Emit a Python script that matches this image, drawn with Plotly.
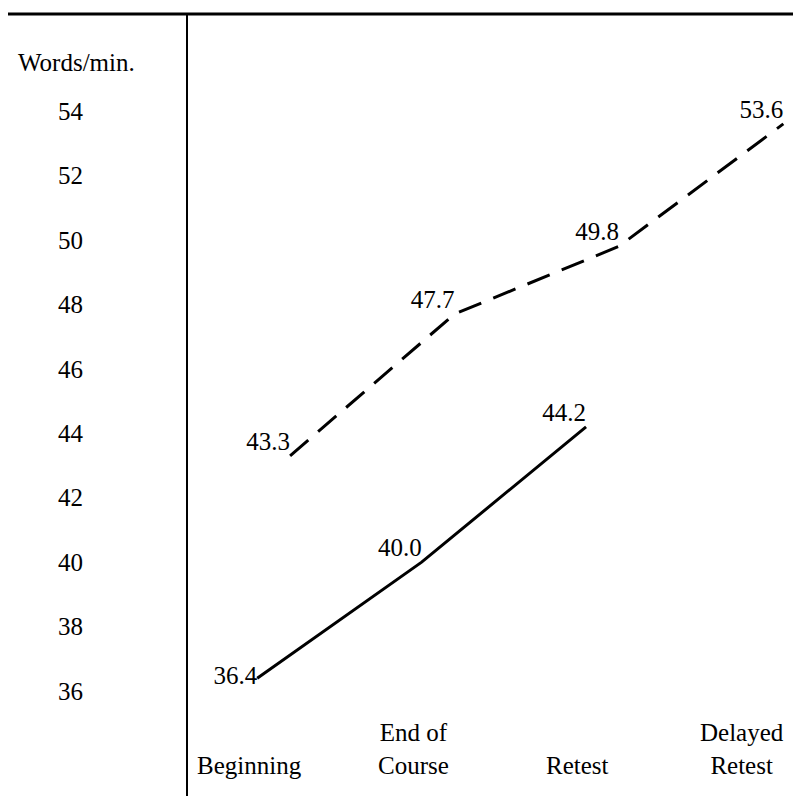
import plotly.graph_objects as go

# ---- data ----
categories = ["Beginning", "End of<br>Course", "Retest", "Delayed<br>Retest"]
solid_values = [36.4, 40.0, 44.2]          # solid line group
dashed_values = [43.3, 47.7, 49.8, 53.6]   # dashed line group
y_ticks = [36, 38, 40, 42, 44, 46, 48, 50, 52, 54]
y_title = "Words/min."

FONT = "Liberation Serif"
FS = 25
DASH_SHIFT = 0.25
SOLID_SHIFT = 0.05

idx = list(range(len(categories)))

fig = go.Figure()

solid_x = [i + SOLID_SHIFT for i in idx[:len(solid_values)]]
fig.add_trace(go.Scatter(
    x=solid_x, y=solid_values, mode="lines+text",
    line=dict(color="black", width=3),
    text=[f"{v:.1f}" for v in solid_values],
    textposition=["middle left"] + ["top left"] * (len(solid_values) - 1),
    textfont=dict(family=FONT, size=FS, color="black"),
    hoverinfo="skip", showlegend=False, cliponaxis=False,
))

dashed_x = [i + DASH_SHIFT for i in idx[:len(dashed_values)]]
fig.add_trace(go.Scatter(
    x=dashed_x, y=dashed_values, mode="lines+text",
    line=dict(color="black", width=3, dash="24px,13px"),
    text=[f"{v:.1f}" for v in dashed_values],
    textposition="top left",
    textfont=dict(family=FONT, size=FS, color="black"),
    hoverinfo="skip", showlegend=False, cliponaxis=False,
))

annotations = []
for i, c in enumerate(categories):
    annotations.append(dict(
        x=i, xref="x", y=0.024, yref="paper", yanchor="bottom", xanchor="center",
        text=c, showarrow=False, align="center",
        font=dict(family=FONT, size=FS, color="black"),
    ))
annotations.append(dict(
    x=-0.18, xref="paper", y=55.5, yref="y", xanchor="center", yanchor="middle",
    text=y_title, showarrow=False,
    font=dict(family=FONT, size=FS, color="black"),
))

fig.update_layout(
    width=801, height=796,
    margin=dict(l=180, r=0, t=6, b=4),
    paper_bgcolor="white", plot_bgcolor="white",
    annotations=annotations,
    shapes=[dict(type="line", xref="paper", yref="paper",
                 x0=-0.3, x1=1.0, y0=1.0, y1=1.0,
                 line=dict(color="black", width=3))],
    xaxis=dict(range=[-0.371, 3.406], visible=False, showgrid=False, zeroline=False),
    yaxis=dict(range=[32.62, 57.01], tickvals=y_ticks,
               ticktext=[str(t) for t in y_ticks],
               showgrid=False, zeroline=False, showline=True,
               linecolor="black", linewidth=2, ticks="",
               ticklabelstandoff=98,
               tickfont=dict(family=FONT, size=FS, color="black")),
)

fig.write_html("out.html")
